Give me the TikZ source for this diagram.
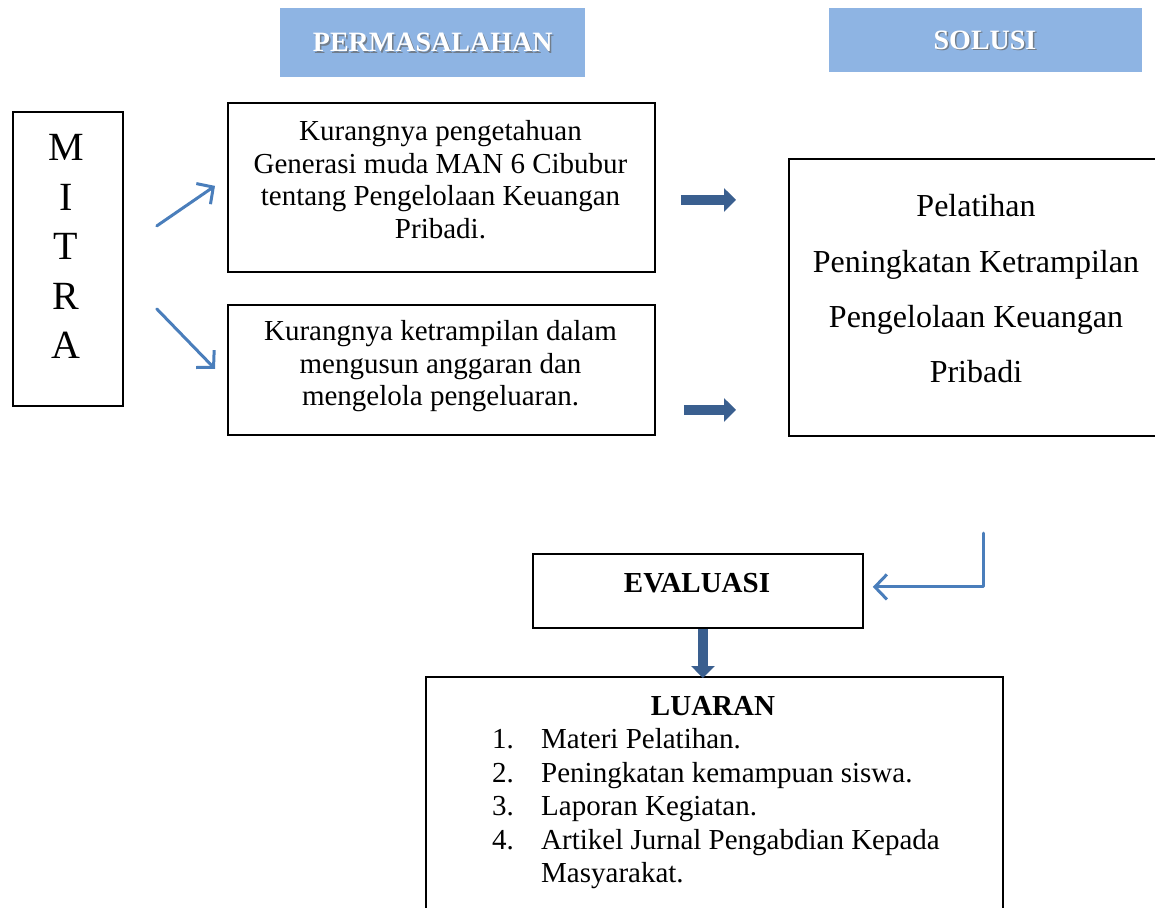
\documentclass[tikz,border=0pt]{standalone}
\usepackage{fontspec}
\setmainfont{Liberation Serif}
\usetikzlibrary{arrows.meta,calc}
\definecolor{hdrblue}{HTML}{8EB4E3}
\definecolor{thinblue}{HTML}{4A7EBB}
\definecolor{darkblue}{HTML}{3A5F8F}
\tikzset{
  box/.style={draw=black, line width=1.8pt, anchor=north west, inner sep=0pt},
  hdr/.style={fill=hdrblue, draw=none, anchor=north west, inner sep=0pt},
  hdrtext/.style={text=white, font=\fontsize{28}{30}\selectfont\bfseries, inner sep=0pt},
  hdrshadow/.style={text=black!60, opacity=0.7, font=\fontsize{28}{30}\selectfont\bfseries, inner sep=0pt},
  body/.style={font=\fontsize{29}{32.5}\selectfont, align=center, inner sep=0pt},
  thinarrow/.style={draw=thinblue, line width=3pt, line cap=round, line join=round, -{Straight Barb[length=12pt,width=25pt,line width=3pt]}},
  blockarrow/.style={draw=darkblue, line width=10pt, -{Triangle[length=12pt,width=23pt]}},
}
\begin{document}
\begin{tikzpicture}[x=1pt,y=-1pt]
\useasboundingbox (0,0) rectangle (1155,907);
% headers
\node[hdr, minimum width=305pt, minimum height=69pt] (h1) at (280,8) {};
\node[hdrshadow] (h1s) at ($(h1.center)+(1.5,1.5)$) {PERMASALAHAN};
\node[hdrtext] (h1t) at (h1.center) {PERMASALAHAN};
\node[hdr, minimum width=313pt, minimum height=64pt] (h2) at (829,8) {};
\node[hdrshadow] (h2s) at ($(985,40)+(1.5,1.5)$) {SOLUSI};
\node[hdrtext] (h2t) at (985,40) {SOLUSI};
% mitra
\node[box, minimum width=110pt, minimum height=294pt] (mitra) at (12,111) {};
\node[font=\fontsize{40}{49.5}\selectfont, align=center, inner sep=0pt, anchor=north] (mt) at (66,134.5) {M\\I\\T\\R\\A};
% problem boxes
\node[box, minimum width=427pt, minimum height=169pt] (b1) at (227,102) {};
\node[body, anchor=north] (b1t) at (440.5,120.5) {Kurangnya pengetahuan\\Generasi muda MAN 6 Cibubur\\tentang Pengelolaan Keuangan\\Pribadi.};
\node[box, minimum width=427pt, minimum height=130pt] (b2) at (227,304) {};
\node[body, anchor=north] (b2t) at (440.5,320.5) {Kurangnya ketrampilan dalam\\mengusun anggaran dan\\mengelola pengeluaran.};
% solution
\node[box, minimum width=385pt, minimum height=277pt] (sol) at (788,158) {};
\node[font=\fontsize{32}{55.3}\selectfont, align=center, inner sep=0pt, anchor=north] (solt) at (976,194.5) {Pelatihan\\Peningkatan Ketrampilan\\Pengelolaan Keuangan\\Pribadi};
% evaluasi
\node[box, minimum width=330pt, minimum height=74pt] (ev) at (532,553) {};
\node[font=\fontsize{29}{32.5}\selectfont\bfseries, inner sep=0pt, anchor=base] (evt) at (697,592) {EVALUASI};
% luaran
\node[box, minimum width=577pt, minimum height=250pt] (lu) at (425,676) {};
\node[font=\fontsize{29}{32.5}\selectfont\bfseries, inner sep=0pt, anchor=base] (lut) at (713,715) {LUARAN};
\node[font=\fontsize{29}{33.5}\selectfont, align=left, inner sep=0pt, anchor=north west] (lul) at (492,728.5) {\makebox[49pt][l]{1.}Materi Pelatihan.\\\makebox[49pt][l]{2.}Peningkatan kemampuan siswa.\\\makebox[49pt][l]{3.}Laporan Kegiatan.\\\makebox[49pt][l]{4.}Artikel Jurnal Pengabdian Kepada\\\hspace*{49pt}Masyarakat.};
% connectors
\draw[thinarrow] ($(mitra.east)+(33,-33)$) -- ($(b1.west)+(-12,-1.5)$);
\draw[thinarrow] ($(mitra.east)+(33,50)$) -- ($(b2.west)+(-12,-1)$);
\draw[blockarrow] ($(b1.east)+(25,12.5)$) -- ($(sol.west)+(-52,-97.5)$);
\draw[blockarrow] ($(b2.east)+(28,40)$) -- ($(sol.west)+(-52,112.5)$);
\coordinate (elb) at (983,533);
\draw[thinarrow] (elb) |- ($(ev.east)+(9,-4)$);
\draw[blockarrow] ($(ev.south)+(5,0)$) -- ($(lu.north)+(-11.5,2)$);
\end{tikzpicture}
\end{document}
